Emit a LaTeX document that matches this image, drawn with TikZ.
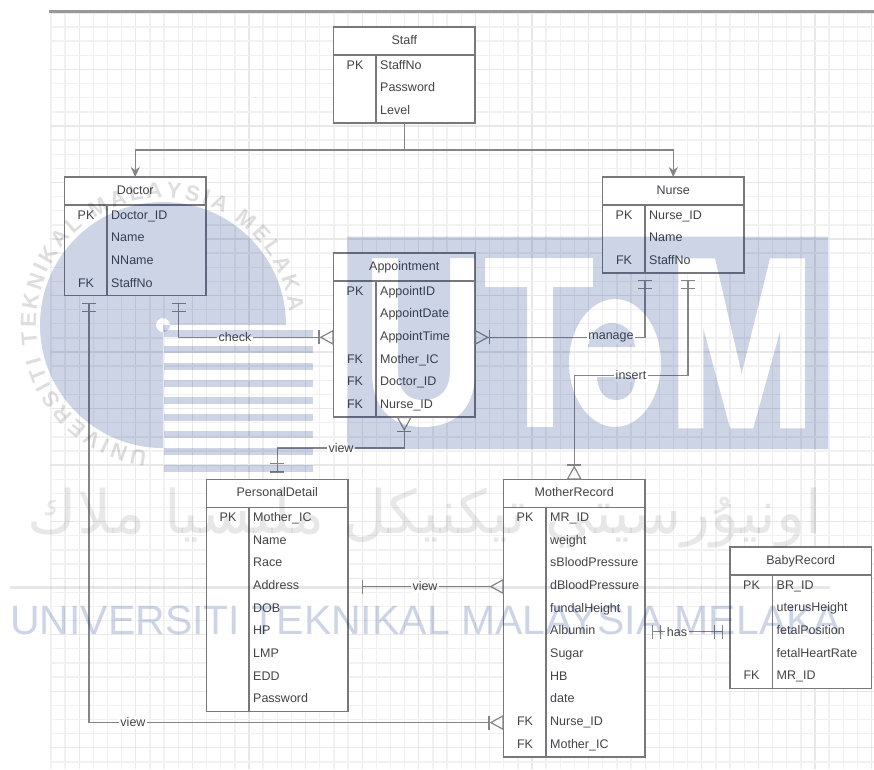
\documentclass[tikz,border=0pt]{standalone}
\usepackage{fontspec}
\setmainfont{Liberation Sans}
\newfontfamily\arabicfont[Script=Arabic]{DejaVu Sans}
\TeXXeTstate=1
\usetikzlibrary{arrows.meta,calc,decorations.text}
\definecolor{cLINE}{HTML}{858589}
\definecolor{cBOX}{HTML}{77777C}
\definecolor{cTXT}{HTML}{444448}
\definecolor{cGRID}{HTML}{F1F1F1}
\definecolor{cGRIDB}{HTML}{E8E8E8}
\definecolor{cUTEM}{HTML}{00287F}
\tikzset{
  oneone/.tip={Bar[width=14pt,sep=7pt]Bar[width=14pt,sep=7pt]},
  many/.tip={Triangle[open,reversed,length=14pt,width=15pt]},
  onemany/.tip={Bar[width=14pt,sep=0pt]Triangle[open,reversed,length=14pt,width=15pt]},
  tbl/.style={draw=cBOX, fill=white, line width=1.4pt, anchor=north west, minimum width=141.5pt, inner sep=0pt, outer sep=0pt},
  tblname/.style={anchor=base, inner sep=0pt, text=cTXT},
  tblkey/.style={anchor=base, inner sep=0pt, text=cTXT, text height=9pt, text depth=3pt},
  tblfield/.style={anchor=base west, inner sep=0pt, text=cTXT, text height=9pt, text depth=3pt},
  rel/.style={draw=cLINE, line width=1.2pt},
  rellabel/.style={fill=white, inner sep=1.5pt, text=cTXT}
}
% name, x, top, title, rows, key/field list
\newcommand{\ertable}[6]{
  \node[tbl, minimum height={28+22.67*#5}] (#1) at (#2,-#3) {};
  \node[tblname] (#1-name) at ($(#1.north)+(0,-17)$) {#4};
  \draw[draw=cBOX, line width=1.4pt] ($(#1.north west)+(0,-28)$) -- ($(#1.north east)+(0,-28)$);
  \draw[draw=cBOX, line width=1.4pt] ($(#1.north west)+(42.5,-28)$) -- ($(#1.south west)+(42.5,0)$);
  \foreach \k/\f [count=\i] in {#6} {
    \node[tblkey] (#1-k\i) at ($(#1.north west)+(21.5,{-42-22.67*(\i-1)})$) {\k};
    \node[tblfield] (#1-f\i) at ($(#1.north west)+(46.5,{-42-22.67*(\i-1)})$) {\f};
  }
}

\begin{document}
\begin{tikzpicture}[x=1pt, y=1pt, font=\fontsize{12.5}{15}\selectfont]
\useasboundingbox (0,0) rectangle (874,-769);

% paper grid
\foreach \n in {0,...,58} {
  \pgfmathsetmacro{\gx}{50.85+14.15*\n}
  \pgfmathtruncatemacro{\gm}{mod(\n,4)}
  \ifnum\gm=2 \draw[cGRIDB, line width=1.2pt] (\gx,-13) -- (\gx,-769);
  \else \draw[cGRID, line width=1.4pt] (\gx,-13) -- (\gx,-769); \fi
}
\foreach \n in {0,...,53} {
  \pgfmathsetmacro{\gy}{12.9+14.13*\n}
  \pgfmathtruncatemacro{\gm}{mod(\n,4)}
  \ifnum\gm=0 \draw[cGRIDB, line width=1.2pt] (49.5,-\gy) -- (874,-\gy);
  \else \draw[cGRID, line width=1.4pt] (49.5,-\gy) -- (874,-\gy); \fi
}
\fill[black!40] (49,-10.2) rectangle (874,-12.8);

% tables
\ertable{staff}{333.5}{27}{Staff}{3}{PK/StaffNo,/Password,/Level}
\ertable{doctor}{64.5}{177}{Doctor}{4}{PK/Doctor\_ID,/Name,/NName,FK/StaffNo}
\ertable{nurse}{602.5}{177}{Nurse}{3}{PK/Nurse\_ID,/Name,FK/StaffNo}
\ertable{appt}{333.5}{253}{Appointment}{6}{PK/AppointID,/AppointDate,/AppointTime,FK/Mother\_IC,FK/Doctor\_ID,FK/Nurse\_ID}
\ertable{detail}{206.5}{479.5}{PersonalDetail}{9}{PK/Mother\_IC,/Name,/Race,/Address,/DOB,/HP,/LMP,/EDD,/Password}
\ertable{mother}{503.5}{479.5}{MotherRecord}{11}{PK/MR\_ID,/weight,/sBloodPressure,/dBloodPressure,/fundalHeight,/Albumin,/Sugar,/HB,/date,FK/Nurse\_ID,FK/Mother\_IC}
\ertable{baby}{730}{547}{BabyRecord}{5}{PK/BR\_ID,/uterusHeight,/fetalPosition,/fetalHeartRate,FK/MR\_ID}

% connectors
\coordinate (split) at ($(staff.south)+(0,-27)$);
\draw[rel] (staff.south) -- (split);
\draw[rel, -{Stealth[length=10pt,width=9pt]}] (split) -| (doctor.north);
\draw[rel, -{Stealth[length=10pt,width=9pt]}] (split) -| (nurse.north);
\draw[rel, {oneone}-{onemany}] ([xshift=24.5]doctor.south west) |- (mother.west |- mother-f10);
\draw[rel, {oneone}-{onemany}] ([xshift=114]doctor.south west) |- (appt.west |- appt-f3);
\draw[rel, {oneone}-{onemany}] ([xshift=42.5]nurse.south west) |- (appt.east |- appt-f3);
\draw[rel, {oneone}-{onemany}] ([xshift=85.5]nurse.south west) |- ($(mother.north)+(0,104)$) -- (mother.north);
\draw[rel, {oneone}-{onemany}] (detail.north) |- ($(appt.south)+(0,-31)$) -- (appt.south);
\draw[rel, {Bar[width=14pt,sep=14pt]}-{many}] (detail.east |- mother-f4) -- (mother.west |- mother-f4);
\draw[rel, {oneone}-{oneone}] (mother.east |- mother-f6) -- (baby.west |- mother-f6);

\node[rellabel] (lCheck) at (235,-337.5) {check};
\node[rellabel] (lManage) at (611,-337.5) {manage};
\node[rellabel] (lInsert) at (631,-375.5) {insert};
\node[rellabel] (lAppt) at (341,-448) {view};
\node[rellabel] (lDetail) at (425,-586.5) {view};
\node[rellabel] (lDoctor) at (133,-722.5) {view};
\node[rellabel] (lHas) at (677,-631.8) {has};

% watermark
\begin{scope}[opacity=.2]
\fill[cUTEM, even odd rule] (347.3,-236.7) rectangle (828,-449)
  (372,-258) -- (372,-372) .. controls (372,-412) and (395,-427) .. (423,-427) .. controls (452,-427) and (475,-412) .. (475,-372) -- (475,-258) -- (450,-258) -- (450,-370) .. controls (450,-390) and (440,-400) .. (423,-400) .. controls (407,-400) and (398,-390) .. (398,-370) -- (398,-258) -- cycle
  (485,-258) -- (593,-258) -- (593,-287) -- (553,-287) -- (553,-427) -- (527,-427) -- (527,-287) -- (485,-287) -- cycle
  (615,-363) ellipse [x radius=46, y radius=64]
  (588,-347) .. controls (590,-332) and (600,-323) .. (612,-323) .. controls (625,-323) and (634,-332) .. (635,-347) -- cycle
  (597,-377) .. controls (598,-393) and (606,-400) .. (616,-400) .. controls (626,-400) and (635,-393) .. (635,-377) -- cycle
  (678.3,-258.3) -- (715,-258.3) -- (741.7,-373.3) -- (770,-258.3) -- (805,-258.3) -- (805,-428.3) -- (780,-428.3) -- (780,-331.7) -- (753.3,-428.3) -- (730,-428.3) -- (703.3,-328.3) -- (703.3,-428.3) -- (678.3,-428.3) -- cycle;
\fill[cUTEM, even odd rule] (163,-325) -- (163,-448) arc[start angle=270, delta angle=-270, radius=123] -- cycle (163,-325) circle[radius=7];
\foreach \n in {0,...,8} {
  \fill[cUTEM] (164,{-329.5-16.9*\n}) rectangle (313,{-336.5-16.9*\n});
}
\node[anchor=west, inner sep=0pt, text=cUTEM, font=\fontsize{41}{41}\selectfont] (wmName) at (10,-620) {UNIVERSITI TEKNIKAL MALAYSIA MELAKA};
\end{scope}
\begin{scope}[opacity=.13]
\path[decorate, decoration={text along path, text align=fit to path, text={|\fontsize{22}{22}\selectfont\bfseries|UNIVERSITI TEKNIKAL MALAYSIA MELAKA}}]
  (163,-325) ++(263:127) arc[start angle=263, end angle=6, radius=127];
\fill[black!70] (10,-586) rectangle (830,-588.5);
\node[anchor=center, inner sep=0pt, text=black!70, font=\fontsize{60}{60}\selectfont] (wmJawi) at (425,-518) {\arabicfont\beginR اونيۇرسيتي تيكنيكل مليسيا ملاك\endR};
\end{scope}
\end{tikzpicture}
\end{document}
